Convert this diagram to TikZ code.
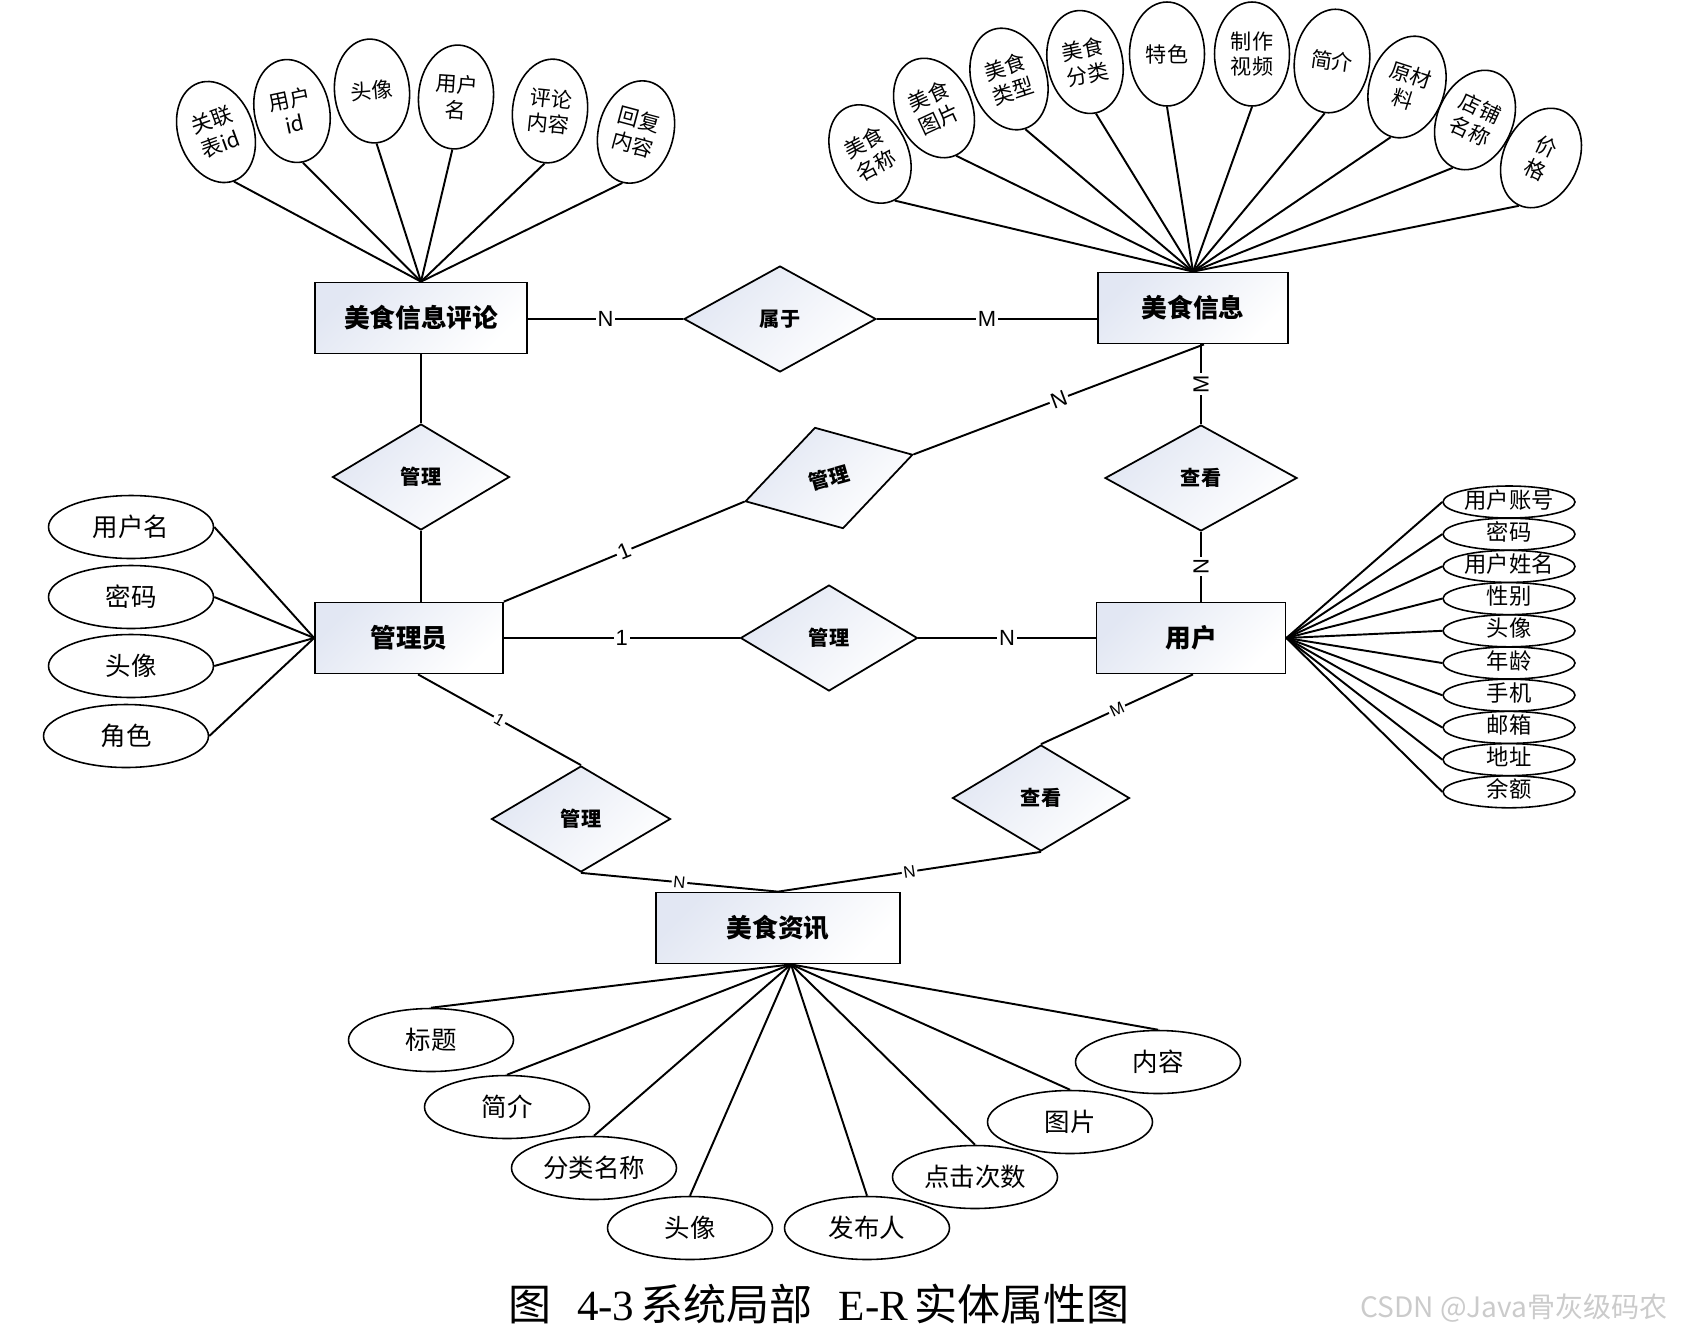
\documentclass[tikz,border=0pt]{standalone}
\usepackage{fontspec}
\setmainfont{Noto Sans CJK SC}
\newfontfamily\cardfont{Liberation Sans}
\newfontfamily\capserif{Liberation Serif}
\usepackage{xcolor}
\usepackage{tikz}
\usetikzlibrary{shapes.geometric, positioning}
\definecolor{entfill}{HTML}{E2E7F3}
\definecolor{marktext}{HTML}{CBCBCB}

\begin{document}
\begin{tikzpicture}[x=0.02cm, y=-0.02cm,
    entity/.style={draw, rectangle, line width=1pt, minimum height=1.42cm, top color=entfill, bottom color=white, shading angle=45, font=\fontsize{14.6}{17}\selectfont\bfseries},
    rel/.style={draw, diamond, line width=1pt, inner sep=0pt, minimum width=3.54cm, minimum height=2.12cm, top color=entfill, bottom color=white, shading angle=45, font=\fontsize{11.5}{14}\selectfont\bfseries},
    attrtop/.style={draw, ellipse, line width=0.9pt, inner sep=0pt, minimum width=1.5cm, minimum height=2.08cm, align=center, font=\fontsize{12}{14.5}\selectfont},
    attrside/.style={draw, ellipse, line width=0.9pt, inner sep=0pt, minimum width=3.3cm, minimum height=1.26cm, font=\fontsize{14.5}{17}\selectfont},
    attrlist/.style={draw, ellipse, line width=0.9pt, inner sep=0pt, minimum width=2.64cm, minimum height=0.64cm, text height=0.7em, text depth=0pt, font=\fontsize{12.7}{14}\selectfont},
    link/.style={line width=1.1pt},
    card/.style={fill=white, inner sep=1pt, font=\cardfont\fontsize{12.5}{14}\selectfont},
    smallcard/.style={card, font=\cardfont\fontsize{9.5}{11}\selectfont}]
    \useasboundingbox (0,0) rectangle (1690,1336);

    % Entities
    \node[entity, minimum width=4.24cm] (comment) at (421,318) {美食信息评论};
    \node[entity, minimum width=3.8cm] (food) at (1193,308) {美食信息};
    \node[entity, minimum width=3.76cm] (admin) at (409,638) {管理员};
    \node[entity, minimum width=3.78cm] (user) at (1191,638) {用户};
    \node[entity, minimum width=4.88cm] (news) at (778,928) {美食资讯};

    % Relationships
    \node[rel, minimum width=3.84cm] (belong) at (780,319) {属于};
    \node[rel] (mgcomment) at (421,477) {管理};
    \node[rel, minimum width=3.48cm, minimum height=2.1cm, rotate=15.6] (mgfood) at (829,478) {管理};
    \node[rel, minimum width=3.84cm] (viewfood) at (1201,478) {查看};
    \node[rel] (mguser) at (829,638) {管理};
    \node[rel, minimum width=3.58cm] (mgnews) at (581,819) {管理};
    \node[rel] (viewnews) at (1041,798) {查看};

    % Relationship lines
    \draw[link] (belong.west -| comment.east) -- node[card, midway] {N} (belong.west);
    \draw[link] (belong.east) -- node[card, midway] {M} (belong.east -| food.west);
    \draw[link] (comment) -- (mgcomment);
    \draw[link] (mgcomment.south) -- (mgcomment.south |- admin.north);
    \draw[link] (admin.north east) -- node[card, midway, sloped] {1} (mgfood.west);
    \draw[link] (mgfood.east) -- node[card, midway, sloped] {N} ([xshift=0.22cm]food.south);
    \draw[link] (viewfood.north |- food.south) -- node[card, midway, rotate=90] {M} (viewfood.north);
    \draw[link] (viewfood.south) -- node[card, midway, rotate=90] {N} (viewfood.south |- user.north);
    \draw[link] (admin) -- node[card, midway] {1} (mguser);
    \draw[link] (mguser) -- node[card, midway] {N} (user);
    \draw[link] ([xshift=0.18cm]admin.south) -- node[smallcard, midway, sloped] {1} (mgnews.north);
    \draw[link] (mgnews.south) -- node[smallcard, midway, sloped] {N} (news.north);
    \draw[link] ([xshift=0.04cm]user.south) -- node[smallcard, midway, sloped] {M} (viewnews.north);
    \draw[link] (viewnews.south) -- node[smallcard, midway, sloped] {N} (news.north);

    % Attributes of 美食信息评论
    \node[attrtop, rotate=20] (c1) at (216,132) {关联\\表id};
    \node[attrtop, rotate=12] (c2) at (292,111) {用户\\id};
    \node[attrtop, rotate=5] (c3) at (372,91) {头像};
    \node[attrtop, rotate=-4] (c4) at (456,97) {用户\\名};
    \node[attrtop, rotate=-6] (c5) at (550,111) {评论\\内容};
    \node[attrtop, rotate=-15] (c6) at (636,132) {回复\\内容};
    \foreach \i in {1,...,6}
        \draw[link] (c\i.south) -- (comment.north);

    % Attributes of 美食信息
    \node[attrtop, rotate=28] (f1) at (870,154) {美食\\名称};
    \node[attrtop, rotate=25] (f2) at (934,108) {美食\\图片};
    \node[attrtop, rotate=18] (f3) at (1009,79) {美食\\类型};
    \node[attrtop, rotate=12] (f4) at (1085,62) {美食\\分类};
    \node[attrtop] (f5) at (1167,54) {特色};
    \node[attrtop] (f6) at (1252,54) {制作\\视频};
    \node[attrtop, rotate=-8] (f7) at (1332,61) {简介};
    \node[attrtop, rotate=-18] (f8) at (1407,87) {原材\\料};
    \node[attrtop, rotate=-25] (f9) at (1475,120) {店铺\\名称};
    \node[attrtop, rotate=-25] (f10) at (1541,158) {价\\格};
    \foreach \i in {1,...,10}
        \draw[link] (f\i.south) -- (food.north);

    % Attributes of 管理员
    \node[attrside] (a1) at (131,527) {用户名};
    \node[attrside] (a2) at (131,597) {密码};
    \node[attrside] (a3) at (131,666) {头像};
    \node[attrside] (a4) at (126,736) {角色};
    \foreach \i in {1,...,4}
        \draw[link] (a\i.east) -- (admin.west);

    % Attributes of 用户
    \foreach \t [count=\i] in {用户账号, 密码, 用户姓名, 性别, 头像, 年龄, 手机, 邮箱, 地址, 余额} {
        \node[attrlist] (u\i) at (1509, {502 + (\i-1)*32.2}) {\t};
        \draw[link] (u\i.west) -- (user.east);
    }

    % Attributes of 美食资讯
    \node[attrside] (n1) at (431,1040) {标题};
    \node[attrside] (n2) at (507,1107) {简介};
    \node[attrside] (n3) at (594,1168) {分类名称};
    \node[attrside] (n4) at (690,1228) {头像};
    \node[attrside] (n5) at (867,1228) {发布人};
    \node[attrside] (n6) at (975,1177) {点击次数};
    \node[attrside] (n7) at (1070,1122) {图片};
    \node[attrside] (n8) at (1158,1062) {内容};
    \foreach \i in {1,...,8}
        \draw[link] (n\i.north) -- ([xshift=0.26cm]news.south);

    % Caption
    \node[font=\fontsize{24.5}{28}\selectfont] (caption) at (819,1304)
        {图\hspace{0.6em}{\capserif 4-3}\hspace{0.15em}系统局部\hspace{0.6em}{\capserif E-R}\hspace{0.15em}实体属性图};
    \node[text=marktext, font=\fontsize{16}{19}\selectfont] (mark) at (1514,1308) {CSDN @Java骨灰级码农};
\end{tikzpicture}
\end{document}
